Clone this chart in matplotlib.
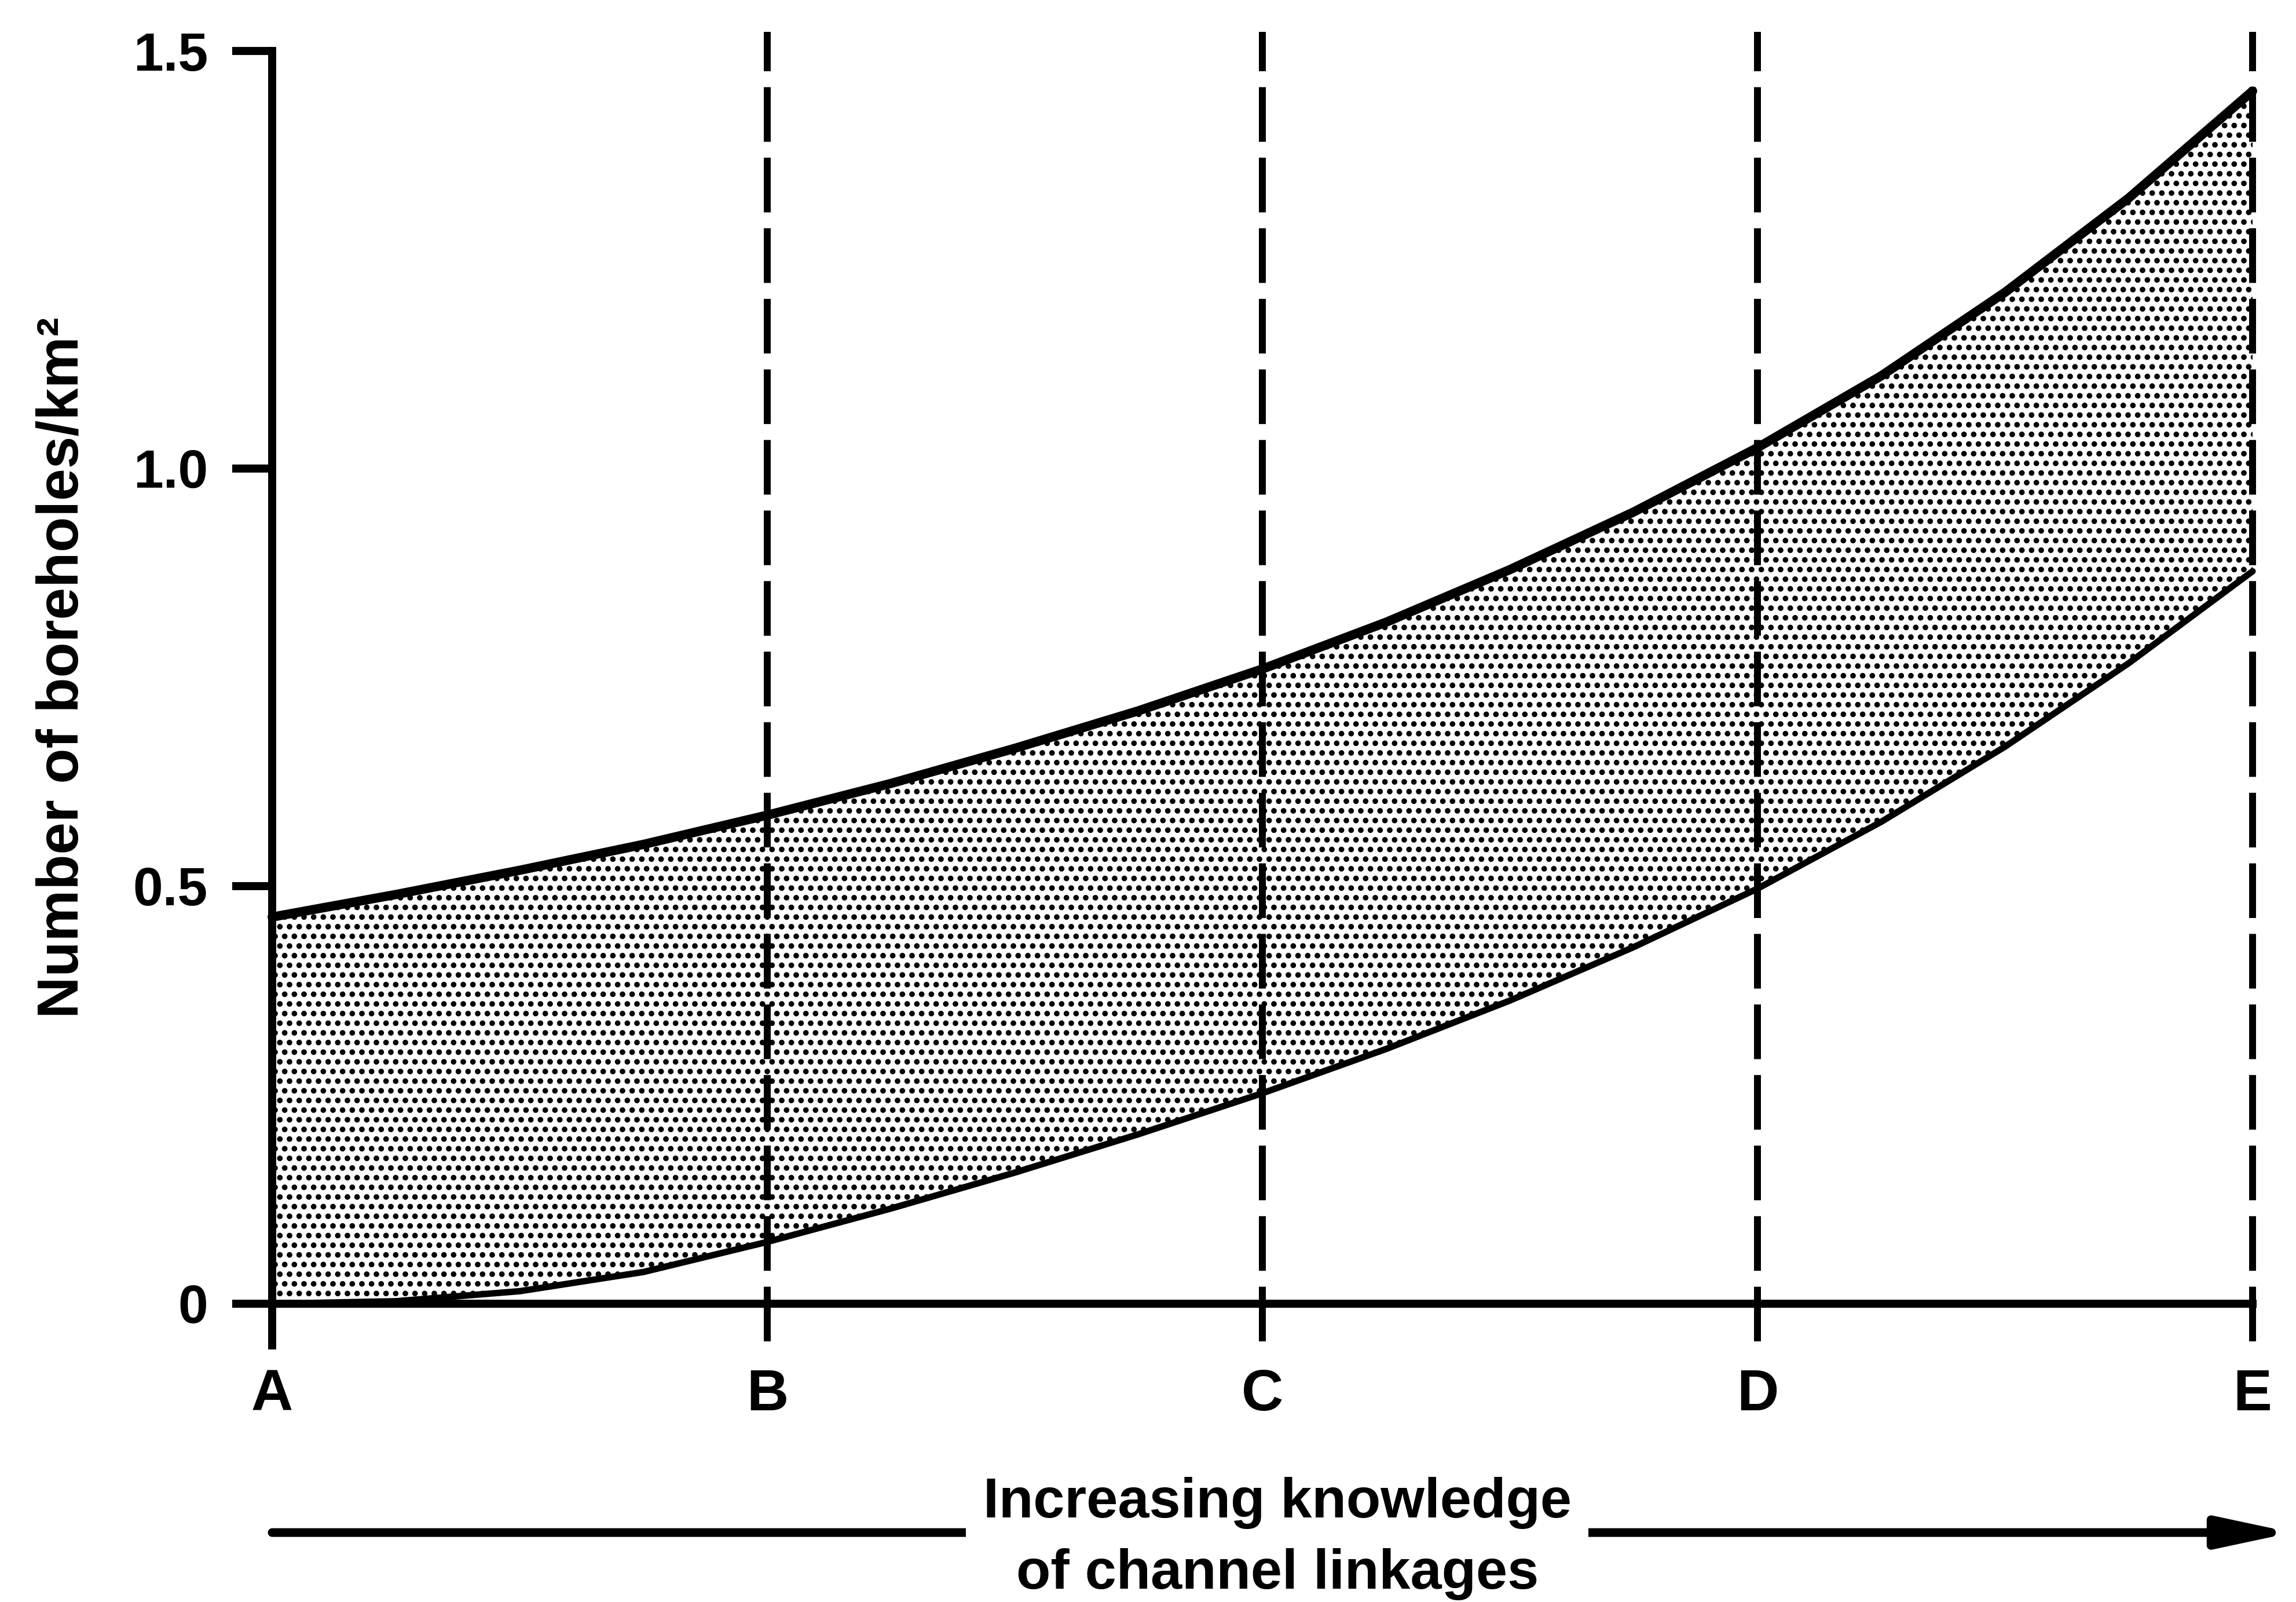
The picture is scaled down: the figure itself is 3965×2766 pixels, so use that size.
import matplotlib
matplotlib.use('Agg')
import matplotlib.pyplot as plt
from matplotlib.patches import ArrowStyle

plt.rcParams['font.family'] = ['Liberation Sans', 'DejaVu Sans']
plt.rcParams['font.weight'] = 'bold'
plt.rcParams['hatch.linewidth'] = 4.5
plt.rcParams['hatch.color'] = 'black'

# ---- data ----
stages = ['A', 'B', 'C', 'D', 'E']
stage_pos = [0, 1, 2, 3, 4]
yticks = [0, 0.5, 1.0, 1.5]
ytick_labels = ['0', '0.5', '1.0', '1.5']

knowledge = [0.0, 0.25, 0.5, 0.75, 1.0, 1.25, 1.5, 1.75, 2.0,
             2.25, 2.5, 2.75, 3.0, 3.25, 3.5, 3.75, 4.0]
upper = [0.463, 0.490, 0.519, 0.550, 0.585, 0.623, 0.665, 0.710, 0.760,
         0.816, 0.879, 0.948, 1.025, 1.111, 1.211, 1.324, 1.452]
lower = [0.000, 0.003, 0.015, 0.038, 0.074, 0.114, 0.157, 0.203, 0.252,
         0.305, 0.363, 0.427, 0.497, 0.577, 0.667, 0.767, 0.877]

ylabel = 'Number of boreholes/km\u00b2'
xlabel_lines = ['Increasing knowledge', 'of channel linkages']

# ---- figure ----
fig = plt.figure(figsize=(39.66, 27.66), dpi=100)
ax = fig.add_axes([0.08617, 0.13406, 0.91191, 0.86019])
ax.set_xlim(-0.15, 4.08)
ax.set_ylim(-0.1, 1.55)

# stippled band
ax.fill_between(knowledge, lower, upper, facecolor='white', edgecolor='black',
                hatch='.', linewidth=0, zorder=1)

# dashed stage lines
for p in stage_pos[1:]:
    ax.plot([p, p], [-0.045, 1.523], color='black', lw=8.6,
            dashes=(7.9, 2.3), solid_capstyle='butt', zorder=2)

# envelope curves
ax.plot(knowledge, upper, color='black', lw=11.5, solid_capstyle='round',
        solid_joinstyle='round', zorder=4)
ax.plot(knowledge, lower, color='black', lw=8, solid_capstyle='round',
        solid_joinstyle='round', zorder=4)

# axes spines
for s in ['top', 'right']:
    ax.spines[s].set_visible(False)
ax.spines['left'].set_position(('data', 0))
ax.spines['left'].set_bounds(-0.05, 1.5)
ax.spines['bottom'].set_position(('data', 0))
ax.spines['bottom'].set_bounds(0, 4)
for s in ['left', 'bottom']:
    ax.spines[s].set_linewidth(10)
    ax.spines[s].set_zorder(5)

ax.set_yticks(yticks)
ax.set_yticklabels(ytick_labels)
ax.set_xticks(stage_pos)
ax.set_xticklabels(stages)
ax.tick_params(axis='y', direction='out', length=50, width=10, pad=30,
               labelsize=67)
ax.tick_params(axis='x', length=0, pad=80, labelsize=72)

# y label
ax.text(-0.423, 0.762, ylabel, rotation=90, ha='center', va='center',
        fontsize=72, clip_on=False)

# bottom arrow with caption
ax.annotate('', xy=(4.08, -0.274), xytext=(0.0, -0.274),
            arrowprops=dict(arrowstyle=ArrowStyle('-|>', head_length=0.75,
                                                  head_width=0.16),
                            mutation_scale=100, lw=10.8, color='black',
                            shrinkA=0, shrinkB=0),
            annotation_clip=False, zorder=2)
ax.text(2.03, -0.256, xlabel_lines[0], ha='center', va='baseline', fontsize=70,
        bbox=dict(boxstyle='square,pad=0.3', fc='white', ec='none'),
        zorder=6, clip_on=False)
ax.text(2.03, -0.341, xlabel_lines[1], ha='center', va='baseline', fontsize=70,
        zorder=6, clip_on=False)

fig.savefig('out.png', dpi=100, facecolor='white')
